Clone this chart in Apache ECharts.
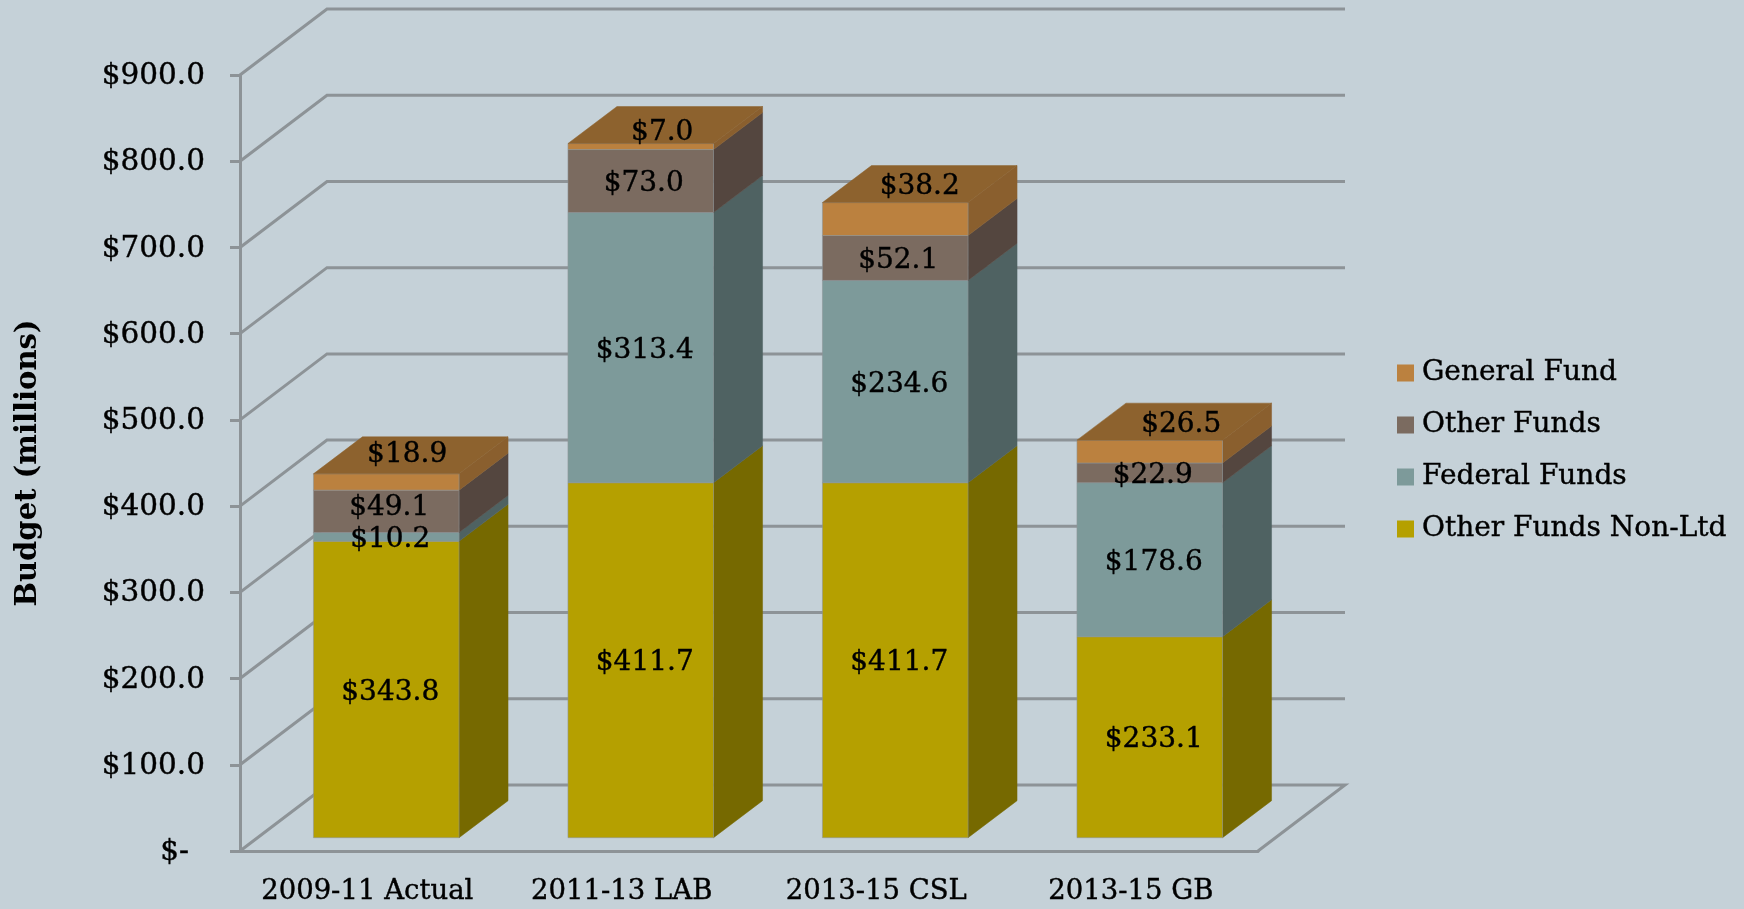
<!DOCTYPE html>
<html>
<head>
<meta charset="utf-8">
<style>html,body{margin:0;padding:0;background:#c5d1d8}#c{width:1744px;height:909px}</style>
<script src="https://cdn.jsdelivr.net/npm/echarts@6/dist/echarts.min.js"></script>
</head>
<body>
<div id="c"></div>
<script>
const categories = ['2009-11 Actual', '2011-13 LAB', '2013-15 CSL', '2013-15 GB'];
const otherFundsNonLtd = [343.8, 411.7, 411.7, 233.1];
const federalFunds = [10.2, 313.4, 234.6, 178.6];
const otherFunds = [49.1, 73.0, 52.1, 22.9];
const generalFund = [18.9, 7.0, 38.2, 26.5];
const tickValues = [0, 100, 200, 300, 400, 500, 600, 700, 800, 900];

const FONT = '"DejaVu Serif"';
const LINE = '#8d9397';
const wall = { dx: 87, dy: 66 };
const barFront = { dx: 19, dy: 13.3 };
const barDepth = { dx: 49, dy: 37 };
const topFaceNudge = [[-3.6, -3.3], [-3, 5], [0, 0], [7, 0]];
const labelNudge = {
  'Other Funds': [[3, -7], [3, 0], [3, 0], [3, 0]]
};
const heavy = { textBorderColor: '#000', textBorderWidth: 0.4 };

const stacks = [
  { name: 'Other Funds Non-Ltd', values: otherFundsNonLtd, front: '#b5a000', side: '#766900' },
  { name: 'Federal Funds', values: federalFunds, front: '#7d9a9a', side: '#4f6262' },
  { name: 'Other Funds', values: otherFunds, front: '#7b6b60', side: '#54463f' },
  { name: 'General Fund', values: generalFund, front: '#bb813f', side: '#8a5f2e', top: '#8d622e' }
];

let base = categories.map(() => 0);
const barSeries = stacks.map(s => {
  const data = categories.map((c, i) => [i, base[i], base[i] + s.values[i], s.values[i]]);
  base = base.map((b, i) => b + s.values[i]);
  return {
    type: 'custom',
    name: s.name,
    itemStyle: { color: s.front },
    encode: { x: 0, y: [1, 2] },
    data,
    renderItem(params, api) {
      const i = api.value(0);
      const p0 = api.coord([i, api.value(1)]);
      const p1 = api.coord([i, api.value(2)]);
      const w = api.size([1, 0])[0] * 0.572;
      const xl = p0[0] + barFront.dx - w / 2;
      const xr = xl + w;
      const yb = p0[1] - barFront.dy;
      const yt = p1[1] - barFront.dy;
      const children = [
        { type: 'polygon', shape: { points: [[xr, yb], [xr + barDepth.dx, yb - barDepth.dy], [xr + barDepth.dx, yt - barDepth.dy], [xr, yt]] },
          style: { fill: s.side, stroke: s.side, lineWidth: 0.5 } },
        { type: 'rect', shape: { x: xl, y: yt, width: w, height: yb - yt },
          style: { fill: s.front, stroke: 'rgba(141,147,151,0.55)', lineWidth: 1 } }
      ];
      let lx = (xl + xr) / 2 + 4, ly = (yb + yt) / 2 + 3;
      if (s.top) {
        children.push({ type: 'polygon', shape: { points: [[xl, yt], [xr, yt], [xr + barDepth.dx, yt - barDepth.dy], [xl + barDepth.dx, yt - barDepth.dy]] },
          style: { fill: s.top, stroke: s.top, lineWidth: 0.5 } });
        lx = (xl + xr) / 2 + barDepth.dx / 2 + topFaceNudge[i][0];
        ly = yt - barDepth.dy / 2 + topFaceNudge[i][1] + 3;
      } else if (labelNudge[s.name]) {
        lx += labelNudge[s.name][i][0] - 4;
        ly += labelNudge[s.name][i][1];
      }
      children.push({ type: 'text', z2: 100, style: {
        text: '$' + api.value(3).toFixed(1), x: lx, y: ly, align: 'center', verticalAlign: 'middle',
        fill: '#000', stroke: '#000', lineWidth: 0.4, font: '28px ' + FONT } });
      return { type: 'group', children };
    }
  };
});

const wallSeries = {
  type: 'custom',
  name: 'wall',
  silent: true,
  encode: { y: 0 },
  data: tickValues.map(v => [v]),
  renderItem(params, api) {
    const cs = params.coordSys;
    const y = api.coord([0, api.value(0)])[1];
    const x0 = cs.x, x1 = cs.x + cs.width;
    const pts = [[x0, y], [x0 + wall.dx, y - wall.dy], [x1 + wall.dx, y - wall.dy]];
    if (api.value(0) === 0) pts.push([x1, y]);
    return { type: 'polyline', shape: { points: pts }, style: { stroke: LINE, lineWidth: 3, fill: null } };
  }
};

const chart = echarts.init(document.getElementById('c'), null, { renderer: 'canvas' });
chart.setOption({
  animation: false,
  backgroundColor: '#c5d1d8',
  grid: { left: 240, right: 486, top: 75, bottom: 58, outerBoundsMode: 'none' },
  legend: {
    orient: 'vertical', left: 1392, top: 352, itemWidth: 17, itemHeight: 17, itemGap: 20,
    icon: 'rect', selectedMode: false,
    data: ['General Fund', 'Other Funds', 'Federal Funds', 'Other Funds Non-Ltd'],
    textStyle: { fontFamily: FONT, fontSize: 28, color: '#000', lineHeight: 32, padding: [0, 0, 0, 3], ...heavy }
  },
  xAxis: {
    type: 'category', data: categories,
    axisTick: { show: false },
    axisLine: { lineStyle: { color: LINE, width: 3 } },
    axisLabel: { fontFamily: FONT, fontSize: 27.5, color: '#000', margin: 27, interval: 0, ...heavy }
  },
  yAxis: {
    type: 'value', min: 0, max: 900, interval: 100,
    name: 'Budget (millions)', nameLocation: 'middle', nameRotate: 90, nameGap: 197,
    nameTextStyle: { fontFamily: FONT, fontWeight: 'bold', fontSize: 29, color: '#000' },
    splitLine: { show: false },
    axisTick: { show: true, length: 10, lineStyle: { color: LINE, width: 3 } },
    axisLine: { show: true, lineStyle: { color: LINE, width: 3 } },
    axisLabel: {
      fontFamily: FONT, fontSize: 29.5, color: '#000', margin: 35, padding: [3, 0, 0, 0], ...heavy,
      formatter: v => v === 0 ? '{z|$-}' : '$' + v.toFixed(1),
      rich: { z: { fontFamily: FONT, fontSize: 29.5, color: '#000', padding: [0, 16, 0, 0], ...heavy } }
    }
  },
  series: [wallSeries, ...barSeries]
});
</script>
</body>
</html>
